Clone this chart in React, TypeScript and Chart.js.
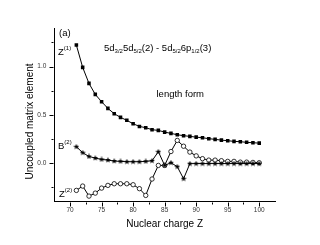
import React, { useEffect, useRef } from "react";
import { Chart, registerables } from "chart.js";

Chart.register(...registerables);

const nuclearCharge = [71, 72, 73, 74, 75, 76, 77, 78, 79, 80, 81, 82, 83, 84, 85, 86, 87, 88, 89, 90, 91, 92, 93, 94, 95, 96, 97, 98, 99, 100];
const z1Values = [1.223, 0.992, 0.826, 0.712, 0.636, 0.567, 0.512, 0.474, 0.443, 0.408, 0.38, 0.367, 0.346, 0.339, 0.321, 0.308, 0.294, 0.284, 0.277, 0.269, 0.263, 0.253, 0.246, 0.238, 0.232, 0.225, 0.222, 0.215, 0.211, 0.207];
const b2Values = [0.17, 0.108, 0.069, 0.052, 0.038, 0.031, 0.021, 0.018, 0.014, 0.014, 0.014, 0.018, 0.024, 0.118, -0.024, 0.004, -0.037, -0.162, -0.006, -0.005, -0.005, -0.005, -0.005, -0.005, -0.005, -0.005, -0.005, -0.005, -0.005, -0.005];
const z2Values = [-0.283, -0.238, -0.342, -0.311, -0.259, -0.231, -0.214, -0.214, -0.214, -0.224, -0.265, -0.335, -0.165, -0.024, -0.024, 0.12, 0.235, 0.175, 0.114, 0.075, 0.046, 0.031, 0.031, 0.025, 0.018, 0.018, 0.01, 0.01, 0.007, 0.004];

const xMajorTicks = [70, 75, 80, 85, 90, 95, 100];
const xMinorTicks = [72.5, 77.5, 82.5, 87.5, 92.5, 97.5];
const yMajorTicks = [0, 0.5, 1.0];
const yMinorTicks = [-0.25, 0.25, 0.75, 1.25];

const yTitle = "Uncoupled matrix element";
const xTitle = "Nuclear charge Z";

const FONT = "'Liberation Sans', Arial, sans-serif";

function makeStar(size: number): HTMLCanvasElement {
  const c = document.createElement("canvas");
  c.width = size;
  c.height = size;
  const ctx = c.getContext("2d")!;
  const cx = size / 2, cy = size / 2;
  const R = size / 2, r = R * 0.45;
  ctx.beginPath();
  for (let i = 0; i < 10; i++) {
    const ang = -Math.PI / 2 + (i * Math.PI) / 5;
    const rad = i % 2 === 0 ? R : r;
    const px = cx + rad * Math.cos(ang);
    const py = cy + rad * Math.sin(ang);
    if (i === 0) ctx.moveTo(px, py);
    else ctx.lineTo(px, py);
  }
  ctx.closePath();
  ctx.fillStyle = "#000";
  ctx.fill();
  return c;
}

function drawSegments(ctx: CanvasRenderingContext2D, x: number, y: number, parts: { t: string; kind: "n" | "sub" | "sup" }[], main: number, small: number) {
  let cx = x;
  for (const p of parts) {
    const size = p.kind === "n" ? main : small;
    ctx.font = `${size}px ${FONT}`;
    const dy = p.kind === "sub" ? 2.6 : p.kind === "sup" ? -5 : 0;
    ctx.fillText(p.t, cx, y + dy);
    cx += ctx.measureText(p.t).width;
  }
}

const overlayPlugin = {
  id: "overlay",
  afterDraw(chart: any) {
    const ctx: CanvasRenderingContext2D = chart.ctx;
    const xs = chart.scales.x;
    const ys = chart.scales.y;
    const area = chart.chartArea;
    ctx.save();
    ctx.strokeStyle = "#000";
    ctx.lineWidth = 1;
    ctx.beginPath();
    const bottom = Math.round(area.bottom) + 0.5;
    for (const v of xMajorTicks) {
      const px = Math.round(xs.getPixelForValue(v)) + 0.5;
      ctx.moveTo(px, bottom);
      ctx.lineTo(px, bottom + 4);
    }
    for (const v of xMinorTicks) {
      const px = Math.round(xs.getPixelForValue(v)) + 0.5;
      ctx.moveTo(px, bottom);
      ctx.lineTo(px, bottom + 2);
    }
    const left = Math.round(area.left) - 0.5;
    for (const v of yMajorTicks) {
      const py = Math.round(ys.getPixelForValue(v)) + 0.5;
      ctx.moveTo(left, py);
      ctx.lineTo(left - 4, py);
    }
    for (const v of yMinorTicks) {
      const py = Math.round(ys.getPixelForValue(v)) + 0.5;
      ctx.moveTo(left, py);
      ctx.lineTo(left - 2, py);
    }
    ctx.stroke();

    ctx.fillStyle = "#000";
    // y axis title
    ctx.save();
    ctx.translate(30, 121.5);
    ctx.rotate(-Math.PI / 2);
    ctx.textAlign = "center";
    ctx.textBaseline = "middle";
    ctx.font = `10px ${FONT}`;
    ctx.fillText(yTitle, 0, 0);
    ctx.restore();

    ctx.textBaseline = "alphabetic";
    ctx.textAlign = "left";
    ctx.font = `9.5px ${FONT}`;
    ctx.fillText("(a)", 59, 35.5);
    drawSegments(ctx, 58, 55, [{ t: "Z", kind: "n" }, { t: "(1)", kind: "sup" }], 9.5, 6);
    drawSegments(ctx, 58, 149, [{ t: "B", kind: "n" }, { t: "(2)", kind: "sup" }], 9.5, 6);
    drawSegments(ctx, 59, 196.5, [{ t: "Z", kind: "n" }, { t: "(2)", kind: "sup" }], 9.5, 6);
    drawSegments(
      ctx,
      104,
      50.7,
      [
        { t: "5d", kind: "n" },
        { t: "3/2", kind: "sub" },
        { t: "5d", kind: "n" },
        { t: "5/2", kind: "sub" },
        { t: "(2) - 5d", kind: "n" },
        { t: "5/2", kind: "sub" },
        { t: "6p", kind: "n" },
        { t: "1/2", kind: "sub" },
        { t: "(3)", kind: "n" },
      ],
      9.5,
      6
    );
    ctx.font = `9.5px ${FONT}`;
    ctx.fillText("length form", 156.5, 96.5);
    ctx.restore();
  },
};

export default function App() {
  const canvasRef = useRef<HTMLCanvasElement | null>(null);

  useEffect(() => {
    const canvas = canvasRef.current;
    if (!canvas) return;
    const star = makeStar(6);
    const chart = new Chart(canvas, {
      type: "line",
      data: {
        labels: nuclearCharge,
        datasets: [
          {
            label: "Z(1)",
            data: nuclearCharge.map((z, i) => ({ x: z, y: z1Values[i] })),
            borderColor: "#000",
            backgroundColor: "#000",
            borderWidth: 1,
            pointStyle: "rect",
            pointRadius: 2.5,
            pointBorderWidth: 0,
            pointBackgroundColor: "#000",
            tension: 0,
          },
          {
            label: "B(2)",
            data: nuclearCharge.map((z, i) => ({ x: z, y: b2Values[i] })),
            borderColor: "#000",
            backgroundColor: "#000",
            borderWidth: 1,
            pointStyle: star as any,
            pointRadius: 3,
            tension: 0,
          },
          {
            label: "Z(2)",
            data: nuclearCharge.map((z, i) => ({ x: z, y: z2Values[i] })),
            borderColor: "#000",
            backgroundColor: "#fff",
            borderWidth: 1,
            pointStyle: "circle",
            pointRadius: 2.2,
            pointBorderWidth: 0.8,
            pointBackgroundColor: "#fff",
            pointBorderColor: "#000",
            tension: 0,
          },
        ],
      },
      options: {
        animation: false,
        responsive: true,
        maintainAspectRatio: false,
        layout: { padding: { top: 28, right: 45, left: 0, bottom: 0 } },
        plugins: { legend: { display: false }, tooltip: { enabled: false } },
        scales: {
          x: {
            type: "linear",
            min: 67.5,
            max: 102.5,
            afterBuildTicks: (scale: any) => {
              scale.ticks = xMajorTicks.map((v) => ({ value: v }));
            },
            afterFit: (scale: any) => {
              scale.height = 43.3;
            },
            grid: { display: true, drawOnChartArea: false, drawTicks: false },
            border: { display: true, color: "#000", width: 1 },
            ticks: {
              padding: 5,
              color: "#333",
              font: { size: 6.5, family: FONT },
              maxRotation: 0,
              callback: (v: any) => String(v),
            },
            title: {
              display: true,
              text: xTitle,
              color: "#000",
              font: { size: 10, family: FONT },
              padding: { top: 0, bottom: 14.5 },
            },
          },
          y: {
            type: "linear",
            min: -0.4,
            max: 1.4,
            afterBuildTicks: (scale: any) => {
              scale.ticks = yMajorTicks.map((v) => ({ value: v }));
            },
            afterFit: (scale: any) => {
              scale.width = 54.3;
            },
            grid: { display: true, drawOnChartArea: false, drawTicks: false },
            border: { display: true, color: "#000", width: 1 },
            ticks: {
              padding: 8,
              color: "#333",
              font: { size: 6.5, family: FONT },
              callback: (v: any) => Number(v).toFixed(1),
            },
            title: { display: false },
          },
        },
      },
      plugins: [overlayPlugin],
    });
    return () => chart.destroy();
  }, []);

  return (
    <div style={{ position: "fixed", left: 0, top: 0, width: 320, height: 245, background: "#fff" }}>
      <canvas ref={canvasRef} />
    </div>
  );
}
